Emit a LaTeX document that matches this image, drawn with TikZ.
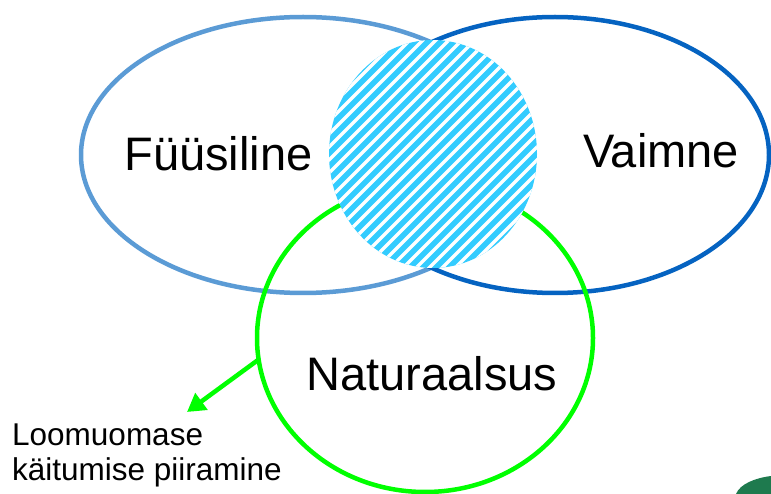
\documentclass[tikz,border=0pt]{standalone}
\usepackage{fontspec}
\setmainfont{Liberation Sans}
\usetikzlibrary{arrows.meta,shapes.geometric}
\definecolor{lblue}{HTML}{5B9BD5}
\definecolor{dblue}{HTML}{0563C1}
\definecolor{lgreen}{HTML}{00FF00}
\definecolor{hatch}{HTML}{33CCFF}
\definecolor{logo}{HTML}{1E7A4E}
\tikzset{
  ring/.style={draw, line width=4.5pt},
  bigtext/.style={inner sep=0pt, anchor=base, font=\fontsize{47}{56}\selectfont},
  smalltext/.style={inner sep=0pt, anchor=base west, font=\fontsize{31.5}{35}\selectfont},
}
\begin{document}
\begin{tikzpicture}[x=1pt,y=-1pt]
\useasboundingbox (0,0) rectangle (771,494);
% ellipses
\draw[ring, lblue] (303,155) ellipse [x radius=222, y radius=138];
\draw[ring, dblue] (555,155) ellipse [x radius=214, y radius=138];
\draw[ring, lgreen] (425,338) ellipse [x radius=168, y radius=154];
% hatched centre
\fill[hatch] (433,154) ellipse [x radius=104, y radius=114];
\begin{scope}
  \clip (433,154) ellipse [x radius=104, y radius=114];
  \foreach \i in {0,...,46} {
    \draw[white, line width=3.5pt] ({30+13*\i},290) -- ++(300,-300);
  }
\end{scope}
% labels
\node[bigtext] (fys) at (218.5,171) {Füüsiline};
\node[bigtext] (vai) at (661,168) {Vaimne};
\node[bigtext] (nat) at (432,390) {Naturaalsus};
\node[smalltext] (lab1) at (12,445) {Loomuomase};
\node[smalltext] (lab2) at (12,480) {käitumise piiramine};
% arrow
\coordinate (as) at (258,360);
\coordinate (ae) at (187,412);
\draw[lgreen, line width=4.5pt, -{Triangle[length=18pt,width=20pt]}] (as) -- (ae);
% logo fragment
\fill[logo] (736,494) .. controls (740,484) and (755,478) .. (771,476) -- (771,494) -- cycle;
\end{tikzpicture}
\end{document}
